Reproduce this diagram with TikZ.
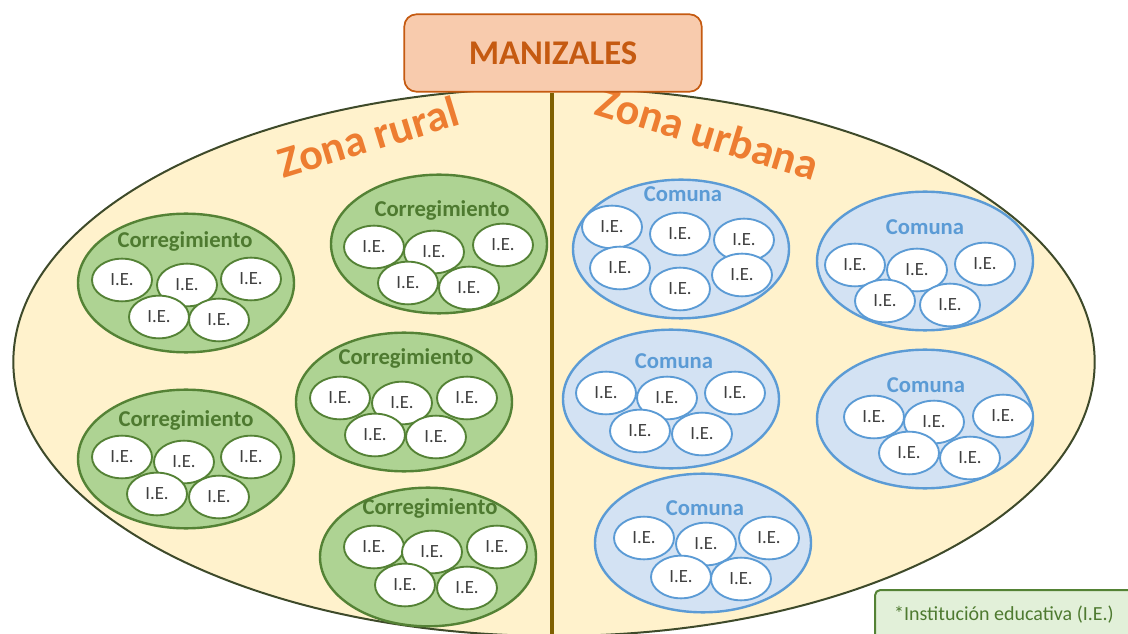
\documentclass[tikz,border=0pt]{standalone}
\usepackage{fontspec}
\setmainfont{Carlito}
\usepackage{tikz}
\usetikzlibrary{shapes.geometric}
\usepackage{xcolor}

\definecolor{fondociudad}{HTML}{FFF2CC}
\definecolor{bordeciudad}{HTML}{3E4A2A}
\definecolor{linea}{HTML}{7F6000}
\definecolor{fondotitulo}{HTML}{F8CBAD}
\definecolor{bordetitulo}{HTML}{C55A11}
\definecolor{naranja}{HTML}{ED7D31}
\definecolor{verdefondo}{HTML}{AED393}
\definecolor{verdeborde}{HTML}{548235}
\definecolor{verdetexto}{HTML}{4E7A30}
\definecolor{azulfondo}{HTML}{D3E2F3}
\definecolor{azulborde}{HTML}{5B9BD5}
\definecolor{azultexto}{HTML}{5B9BD5}
\definecolor{gristexto}{HTML}{404040}
\definecolor{notafondo}{HTML}{E2F0D9}

\tikzset{
  ciudad/.style={ellipse, draw=bordeciudad, line width=1.5pt, fill=fondociudad,
    minimum width=811pt, minimum height=411pt, inner sep=0pt},
  titulo/.style={rounded corners=9pt, draw=bordetitulo, line width=1.3pt, fill=fondotitulo,
    minimum width=223pt, minimum height=58pt, text=bordetitulo,
    font=\bfseries\fontsize{26}{30}\selectfont},
  zona/.style={text=naranja, font=\bfseries\fontsize{33}{38}\selectfont},
  correg/.style={ellipse, draw=verdeborde, line width=1.8pt, fill=verdefondo,
    minimum width=162pt, minimum height=104pt, inner sep=0pt},
  comuna/.style={ellipse, draw=azulborde, line width=1.8pt, fill=azulfondo,
    minimum width=162pt, minimum height=104pt, inner sep=0pt},
  ieverde/.style={ellipse, draw=verdeborde, line width=1.4pt, fill=white,
    minimum width=45pt, minimum height=32pt, inner sep=0pt, text=gristexto,
    font=\fontsize{14}{16}\selectfont},
  ieazul/.style={ieverde, draw=azulborde},
  nomverde/.style={text=verdetexto, font=\bfseries\fontsize{17}{20}\selectfont},
  nomazul/.style={text=azultexto, font=\bfseries\fontsize{17}{20}\selectfont},
  nota/.style={draw=verdeborde, line width=1.5pt, fill=notafondo, rounded corners=4pt,
    minimum width=193.5pt, minimum height=37.5pt, text=verdetexto,
    font=\fontsize{15}{18}\selectfont}
}

\begin{document}
\begin{tikzpicture}[x=0.75pt,y=-0.75pt]
    \path[use as bounding box, clip] (0,0) rectangle (1128,634);
    \node[ciudad] (ciudad) at (554,362) {};
    \coordinate (fondo) at (552,640);
    % zona rural
    \node[correg] (c1) at (186,283) {};
    \node[ieverde] (c1a) at (122,280) {I.E.};
    \node[ieverde] (c1b) at (187,285) {I.E.};
    \node[ieverde] (c1c) at (251,279) {I.E.};
    \node[ieverde] (c1d) at (159,317) {I.E.};
    \node[ieverde] (c1e) at (219,320) {I.E.};
    \node[nomverde] (c1t) at (185,241) {Corregimiento};
    \node[correg] (c2) at (439,244) {};
    \node[ieverde] (c2a) at (374,247) {I.E.};
    \node[ieverde] (c2b) at (434,252) {I.E.};
    \node[ieverde] (c2c) at (503,245) {I.E.};
    \node[ieverde] (c2d) at (408,283) {I.E.};
    \node[ieverde] (c2e) at (469,288) {I.E.};
    \node[nomverde] (c2t) at (442,210) {Corregimiento};
    \node[correg] (c3) at (404,402) {};
    \node[ieverde] (c3a) at (340,398) {I.E.};
    \node[ieverde] (c3b) at (402,403) {I.E.};
    \node[ieverde] (c3c) at (467,398) {I.E.};
    \node[ieverde] (c3d) at (375,435) {I.E.};
    \node[ieverde] (c3e) at (436,437) {I.E.};
    \node[nomverde] (c3t) at (406,358) {Corregimiento};
    \node[correg] (c4) at (186,459) {};
    \node[ieverde] (c4a) at (122,457) {I.E.};
    \node[ieverde] (c4b) at (184,462) {I.E.};
    \node[ieverde] (c4c) at (251,457) {I.E.};
    \node[ieverde] (c4d) at (157,494) {I.E.};
    \node[ieverde] (c4e) at (219,497) {I.E.};
    \node[nomverde] (c4t) at (186,420) {Corregimiento};
    \node[correg] (c5) at (428,557) {};
    \node[ieverde] (c5a) at (374,547) {I.E.};
    \node[ieverde] (c5b) at (432,552) {I.E.};
    \node[ieverde] (c5c) at (497,547) {I.E.};
    \node[ieverde] (c5d) at (405,585) {I.E.};
    \node[ieverde] (c5e) at (467,588) {I.E.};
    \node[nomverde] (c5t) at (430,508) {Corregimiento};
    % zona urbana
    \node[comuna] (b1) at (681,249) {};
    \node[ieazul] (b1a) at (612,227) {I.E.};
    \node[ieazul] (b1b) at (680,234) {I.E.};
    \node[ieazul] (b1c) at (744,240) {I.E.};
    \node[ieazul] (b1d) at (620,268) {I.E.};
    \node[ieazul] (b1e) at (680,289) {I.E.};
    \node[ieazul] (b1f) at (742,275) {I.E.};
    \node[nomazul] (b1t) at (683,194) {Comuna};
    \node[comuna] (b2) at (925,261) {};
    \node[ieazul] (b2a) at (855,265) {I.E.};
    \node[ieazul] (b2b) at (917,270) {I.E.};
    \node[ieazul] (b2c) at (985,264) {I.E.};
    \node[ieazul] (b2d) at (885,301) {I.E.};
    \node[ieazul] (b2e) at (950,305) {I.E.};
    \node[nomazul] (b2t) at (925,227) {Comuna};
    \node[comuna] (b3) at (671,399) {};
    \node[ieazul] (b3a) at (606,393) {I.E.};
    \node[ieazul] (b3b) at (667,398) {I.E.};
    \node[ieazul] (b3c) at (735,393) {I.E.};
    \node[ieazul] (b3d) at (640,431) {I.E.};
    \node[ieazul] (b3e) at (702,434) {I.E.};
    \node[nomazul] (b3t) at (674,361) {Comuna};
    \node[comuna] (b4) at (925,419) {};
    \node[ieazul] (b4a) at (874,417) {I.E.};
    \node[ieazul] (b4b) at (934,422) {I.E.};
    \node[ieazul] (b4c) at (1003,416) {I.E.};
    \node[ieazul] (b4d) at (909,453) {I.E.};
    \node[ieazul] (b4e) at (970,458) {I.E.};
    \node[nomazul] (b4t) at (926,385) {Comuna};
    \node[comuna] (b5) at (703,543) {};
    \node[ieazul] (b5a) at (644,538) {I.E.};
    \node[ieazul] (b5b) at (706,544) {I.E.};
    \node[ieazul] (b5c) at (769,538) {I.E.};
    \node[ieazul] (b5d) at (681,577) {I.E.};
    \node[ieazul] (b5e) at (741,579) {I.E.};
    \node[nomazul] (b5t) at (705,508) {Comuna};
    % textos de zona
    \node[zona, rotate=17] (rural) at (368,137) {Zona rural};
    \node[zona, rotate=-17] (urbana) at (708,133) {Zona urbana};
    % titulo y division
    \node[titulo] (manizales) at (553,53) {MANIZALES};
    \draw[linea, line width=2.3pt] (manizales.south -| fondo) -- (fondo);
    \node[nota] (nota) at (1004,615) {*Institución educativa (I.E.)};
\end{tikzpicture}
\end{document}
